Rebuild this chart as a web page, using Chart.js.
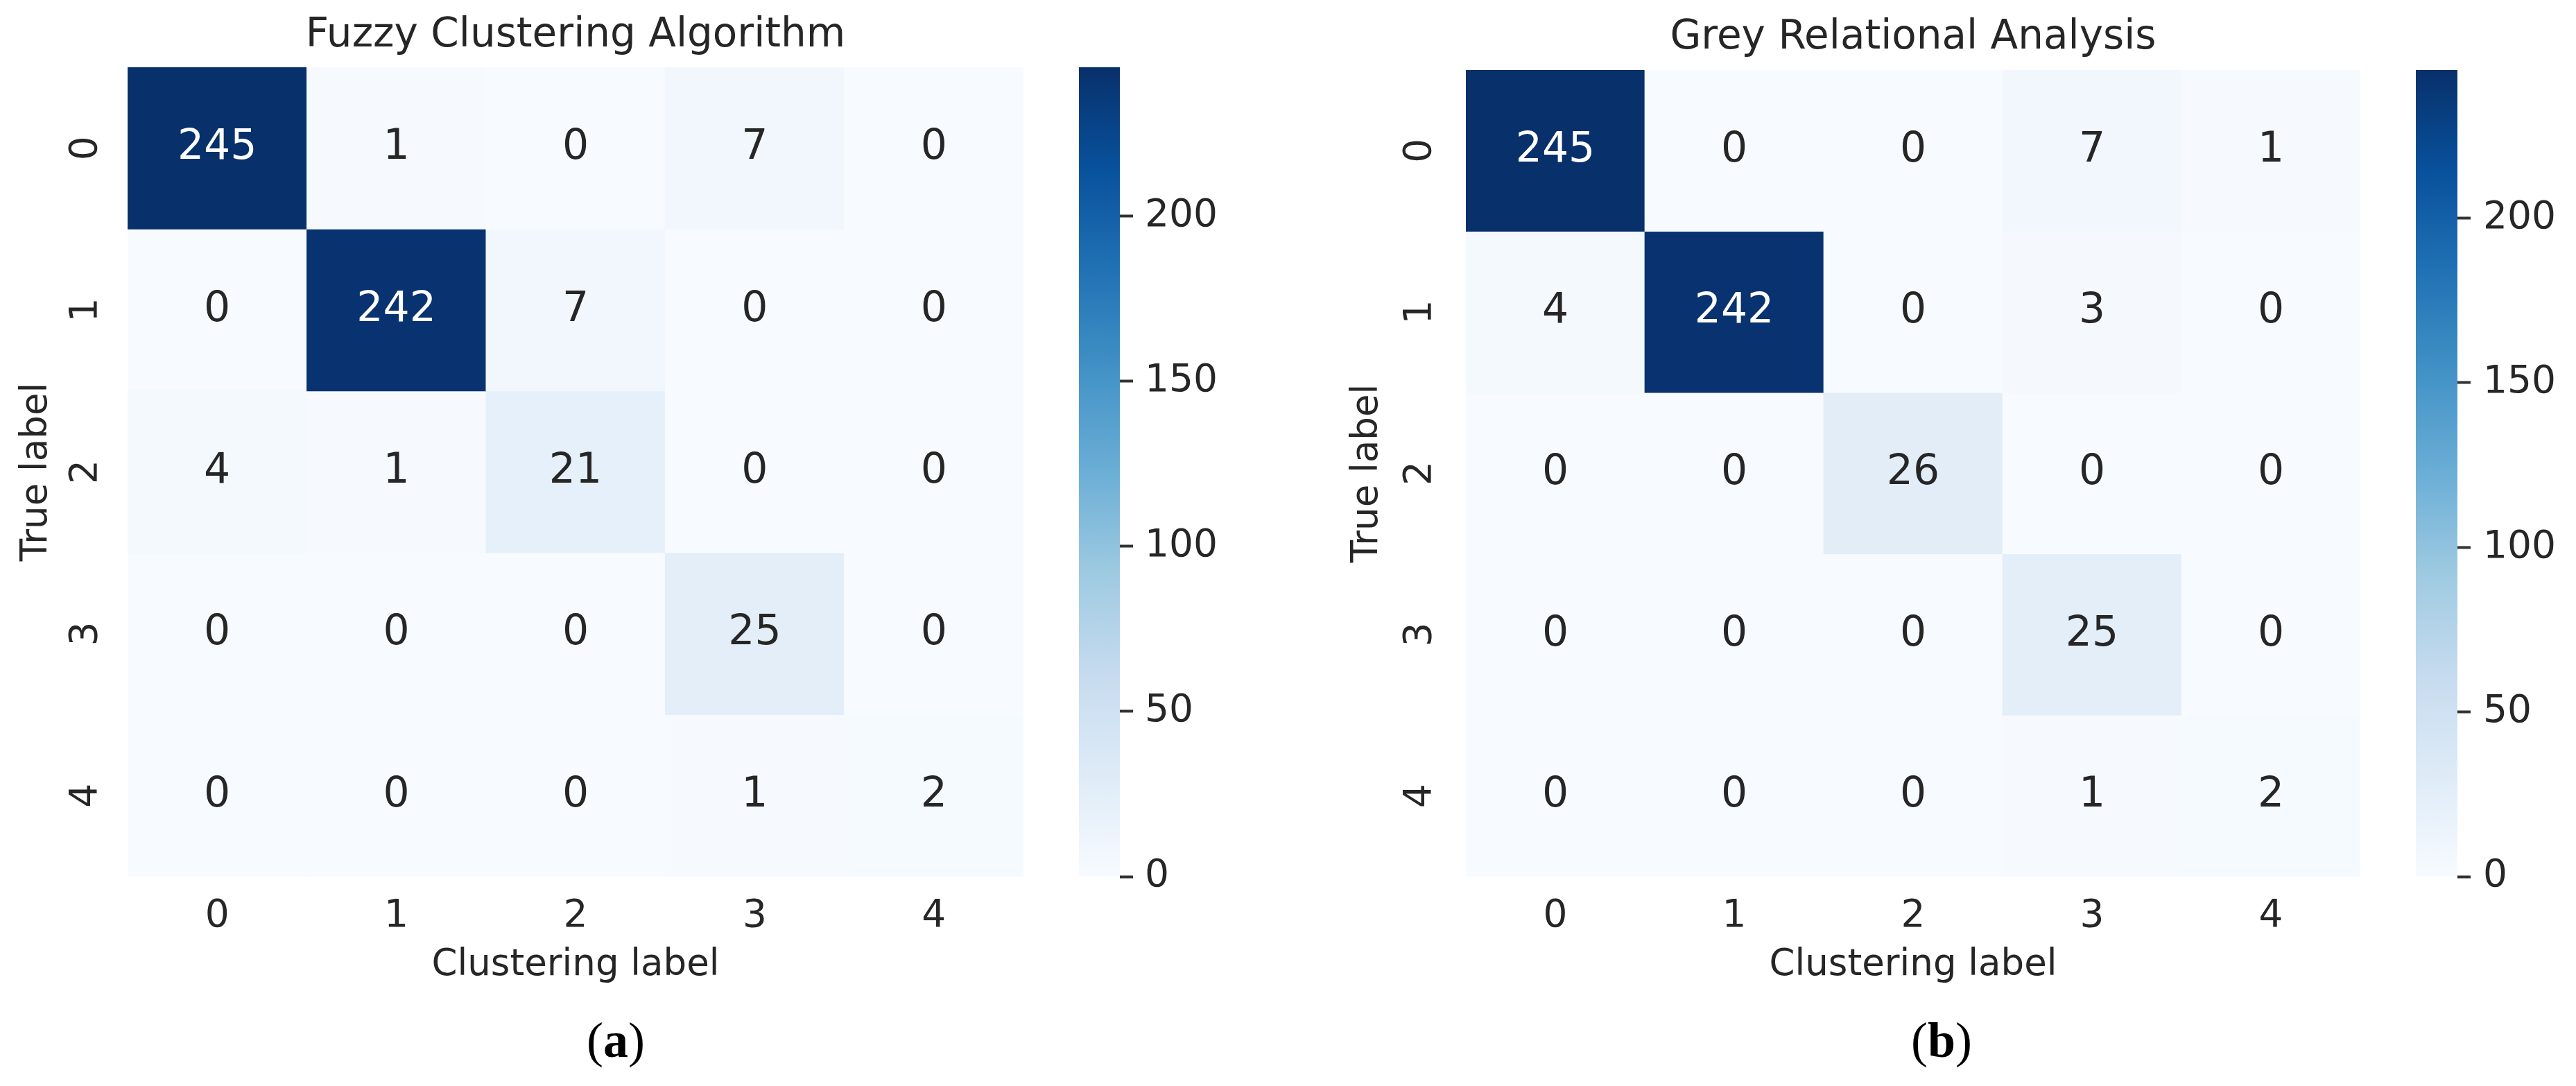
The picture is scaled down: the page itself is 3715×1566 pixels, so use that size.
<!DOCTYPE html>
<html>
<head>
<meta charset="utf-8">
<title>Confusion matrices</title>
<script src="https://cdn.jsdelivr.net/npm/chart.js@4.4.1/dist/chart.umd.min.js"></script>
<style>
    html, body { margin: 0; padding: 0; background: #ffffff; }
    #page { position: relative; width: 3715px; height: 1566px; overflow: hidden; background: #ffffff; }
    #page canvas { position: absolute; }
    .caption {
        position: absolute;
        font-family: "Liberation Serif", "Times New Roman", serif;
        font-size: 72px;
        color: #000000;
        transform: translate(-50%, -50%);
        white-space: nowrap;
    }
</style>
</head>
<body>
<div id="page">
    <canvas id="heatA"></canvas>
    <canvas id="cbarA"></canvas>
    <canvas id="heatB"></canvas>
    <canvas id="cbarB"></canvas>
</div>
<script>
/* ==========================================================================
DATA
========================================================================== */
const clusterLabels = ["0", "1", "2", "3", "4"];
const trueLabels = ["0", "1", "2", "3", "4"];

const fuzzyMatrix = [
    [245, 1, 0, 7, 0],
    [0, 242, 7, 0, 0],
    [4, 1, 21, 0, 0],
    [0, 0, 0, 25, 0],
    [0, 0, 0, 1, 2],
];

const greyMatrix = [
    [245, 0, 0, 7, 1],
    [4, 242, 0, 3, 0],
    [0, 0, 26, 0, 0],
    [0, 0, 0, 25, 0],
    [0, 0, 0, 1, 2],
];

const colorbarTicks = [0, 50, 100, 150, 200];

/* ==========================================================================
STYLE
========================================================================== */
const FONT = "DejaVu Sans";
const TEXT = "#262626";
const PAGE_H = 1566;

// matplotlib "Blues"
const bluesStops = [
    "#f7fbff", "#deebf7", "#c6dbef", "#9ecae1", "#6baed6",
    "#4292c6", "#2171b5", "#08519c", "#08306b",
];

function hexToRgb(h) {
    const n = parseInt(h.slice(1), 16);
    return [(n >> 16) & 255, (n >> 8) & 255, n & 255];
}

function blues(t) {
    t = Math.max(0, Math.min(1, t));
    const s = t * (bluesStops.length - 1);
    const i = Math.min(bluesStops.length - 2, Math.floor(s));
    const f = s - i;
    const a = hexToRgb(bluesStops[i]);
    const b = hexToRgb(bluesStops[i + 1]);
    const c = a.map((v, k) => Math.round(v + (b[k] - v) * f));
    return `rgb(${c[0]}, ${c[1]}, ${c[2]})`;
}

function luminance(rgb) {
    const c = rgb.match(/\d+/g).map(Number).map((v) => {
        v /= 255;
        return v <= 0.03928 ? v / 12.92 : Math.pow((v + 0.055) / 1.055, 2.4);
    });
    return 0.2126 * c[0] + 0.7152 * c[1] + 0.0722 * c[2];
}

// cell numbers, drawn at the centre of each bar element
const cellText = {
    id: "cellText",
    afterDatasetsDraw(chart) {
        const ctx = chart.ctx;
        ctx.save();
        ctx.font = `60px "${FONT}"`;
        ctx.textAlign = "center";
        ctx.textBaseline = "middle";
        chart.data.datasets.forEach((ds, r) => {
            chart.getDatasetMeta(r).data.forEach((bar, c) => {
                const fill = ds.backgroundColor[c];
                ctx.fillStyle = luminance(fill) < 0.408 ? "#ffffff" : TEXT;
                ctx.fillText(String(ds.values[c]), bar.x, (bar.y + bar.base) / 2);
            });
        });
        ctx.restore();
    },
};

/* ==========================================================================
PANELS
========================================================================== */
const panels = [
    {
        id: "A",
        title: "Fuzzy Clustering Algorithm",
        matrix: fuzzyMatrix,
        caption: "a",
        plot: { left: 184, top: 97, right: 1476, bottom: 1264 },
        yTickPad: 42,
        yTitlePad: 21,
        titlePad: 17,
        cbar: { left: 1556, right: 1615, labelPad: 17 },
        capX: 888,
    },
    {
        id: "B",
        title: "Grey Relational Analysis",
        matrix: greyMatrix,
        caption: "b",
        plot: { left: 2114, top: 101, right: 3404, bottom: 1264 },
        yTickPad: 48,
        yTitlePad: 10,
        titlePad: 20,
        cbar: { left: 3484, right: 3544, labelPad: 18 },
        capX: 2800,
    },
];

function makeHeatmap(p) {
    const canvas = document.getElementById("heat" + p.id);
    const axisW = 184;
    canvas.width = p.plot.right - p.plot.left + axisW;
    canvas.height = PAGE_H;
    canvas.style.left = p.plot.left - axisW + "px";
    canvas.style.top = "0px";

    const vmax = Math.max(...p.matrix.flat());

    new Chart(canvas, {
        type: "bar",
        data: {
            labels: clusterLabels,
            datasets: p.matrix.map((row, r) => ({
                label: trueLabels[r],
                data: row.map(() => [r, r + 1]),
                values: row,
                backgroundColor: row.map((v) => blues(v / vmax)),
                borderWidth: 0,
                barPercentage: 1,
                categoryPercentage: 1,
                grouped: false,
                xAxisID: "x",
                yAxisID: "y",
            })),
        },
        options: {
            responsive: false,
            animation: false,
            devicePixelRatio: 1,
            layout: { padding: 0 },
            plugins: {
                legend: { display: false },
                tooltip: { enabled: false },
                title: { display: false },
            },
            scales: {
                x: {
                    type: "category",
                    position: "bottom",
                    offset: true,
                    grid: { display: false, drawTicks: false },
                    border: { display: false },
                    ticks: {
                        color: TEXT,
                        font: { family: FONT, size: 55 },
                        padding: 25,
                        maxRotation: 0,
                        autoSkip: false,
                    },
                    title: {
                        display: true,
                        text: "Clustering label",
                        color: TEXT,
                        font: { family: FONT, size: 53 },
                        padding: { top: 0, bottom: 142 },
                    },
                    afterFit: (s) => { s.height = PAGE_H - p.plot.bottom; },
                },
                xTop: {
                    type: "category",
                    position: "top",
                    grid: { display: false, drawTicks: false },
                    border: { display: false },
                    ticks: { display: false },
                    title: {
                        display: true,
                        text: p.title,
                        color: TEXT,
                        font: { family: FONT, size: 58 },
                        padding: { top: p.titlePad, bottom: 0 },
                    },
                    afterFit: (s) => { s.height = p.plot.top; },
                },
                y: {
                    type: "linear",
                    position: "left",
                    min: 0,
                    max: trueLabels.length,
                    reverse: true,
                    grid: { display: false, drawTicks: false },
                    border: { display: false },
                    afterBuildTicks: (s) => {
                        s.ticks = trueLabels.map((_, i) => ({ value: i + 0.5 }));
                    },
                    ticks: {
                        callback: (v, i) => trueLabels[i],
                        minRotation: 90,
                        maxRotation: 90,
                        crossAlign: "center",
                        padding: p.yTickPad,
                        color: TEXT,
                        font: { family: FONT, size: 55 },
                    },
                    title: {
                        display: true,
                        text: "True label",
                        color: TEXT,
                        font: { family: FONT, size: 53 },
                        padding: { top: p.yTitlePad, bottom: 0 },
                    },
                    afterFit: (s) => { s.width = axisW; },
                },
            },
        },
        plugins: [cellText],
    });
}

function makeColorbar(p) {
    const canvas = document.getElementById("cbar" + p.id);
    const pad = 60;
    const axisW = 240;
    canvas.width = p.cbar.right - p.cbar.left + axisW;
    canvas.height = p.plot.bottom - p.plot.top + pad * 2;
    canvas.style.left = p.cbar.left + "px";
    canvas.style.top = p.plot.top - pad + "px";

    const vmax = Math.max(...p.matrix.flat());

    new Chart(canvas, {
        type: "bar",
        data: {
            labels: [""],
            datasets: [
                {
                    data: [[0, vmax]],
                    backgroundColor: (c) => {
                        const chart = c.chart;
                        if (!chart.chartArea) return bluesStops[0];
                        const y = chart.scales.y;
                        const g = chart.ctx.createLinearGradient(
                            0, y.getPixelForValue(0), 0, y.getPixelForValue(vmax)
                        );
                        bluesStops.forEach((col, i) => g.addColorStop(i / (bluesStops.length - 1), col));
                        return g;
                    },
                    borderWidth: 0,
                    barPercentage: 1,
                    categoryPercentage: 1,
                },
            ],
        },
        options: {
            responsive: false,
            animation: false,
            devicePixelRatio: 1,
            layout: { padding: { top: pad, bottom: pad, left: 0, right: 0 } },
            plugins: {
                legend: { display: false },
                tooltip: { enabled: false },
            },
            scales: {
                x: { display: false },
                y: {
                    position: "right",
                    min: 0,
                    max: vmax,
                    grid: {
                        display: true,
                        drawOnChartArea: false,
                        drawTicks: true,
                        tickLength: 19,
                        tickWidth: 4,
                        tickColor: "#333333",
                    },
                    border: { display: false },
                    afterBuildTicks: (s) => {
                        s.ticks = colorbarTicks.map((v) => ({ value: v }));
                    },
                    ticks: {
                        padding: p.cbar.labelPad,
                        color: TEXT,
                        font: { family: FONT, size: 55 },
                    },
                    afterFit: (s) => { s.width = axisW; },
                },
            },
        },
    });
}

panels.forEach((p) => {
    makeHeatmap(p);
    makeColorbar(p);

    const cap = document.createElement("div");
    cap.className = "caption";
    cap.style.left = p.capX + "px";
    cap.style.top = "1500px";
    cap.innerHTML = `(<b>${p.caption}</b>)`;
    document.getElementById("page").appendChild(cap);
});
</script>
</body>
</html>
